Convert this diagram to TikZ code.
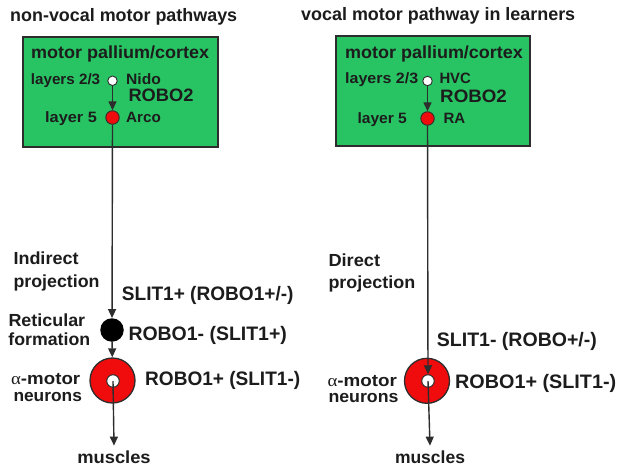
\documentclass[tikz,border=0pt]{standalone}
\usepackage{fontspec}
\usepackage{graphicx}
\setmainfont{Liberation Sans}
\newfontfamily\grk{Liberation Serif}
\usetikzlibrary{arrows.meta}

\definecolor{ink}{RGB}{28,28,28}
\definecolor{edge}{RGB}{45,45,45}
\definecolor{pallium}{RGB}{40,196,100}
\definecolor{cellred}{RGB}{240,12,12}

% text stretched horizontally to a given width, height kept
\newcommand\wtxt[3]{\resizebox{#1pt}{\height}{\fontsize{#2}{#2}\selectfont\bfseries #3}}

\tikzset{
  txt/.style={anchor=base west, inner sep=0pt, text=ink},
  box/.style={draw=edge, line width=1.8pt, fill=pallium},
  upper/.style={circle, draw=edge, line width=0.9pt, fill=white, inner sep=0pt, minimum size=9.5pt},
  lower/.style={circle, draw=edge, line width=0.9pt, fill=cellred, inner sep=0pt, minimum size=13.5pt},
  relay/.style={circle, fill=black, inner sep=0pt, minimum size=23.5pt},
  donut/.style={circle, draw=edge, line width=1.3pt, fill=cellred, inner sep=0pt, minimum size=45pt},
  hole/.style={circle, draw=edge, line width=1pt, fill=white, inner sep=0pt, minimum size=12.5pt},
  arr/.style={draw=edge, line width=1.4pt, -{Triangle[length=9pt,width=8pt,fill=edge]}},
  target/.style={anchor=base, inner xsep=0pt, inner ysep=4.5pt, text=ink}
}

\begin{document}
\begin{tikzpicture}[x=1pt,y=-1pt]
\path[use as bounding box, fill=white] (0,0) rectangle (617,470);

% ---------- non-vocal pathway ----------
\node[txt] (titleL) at (10,21.7) {\wtxt{227}{18}{non-vocal motor pathways}};
\draw[box] (23.3,37.3) rectangle (218.3,146.7);
\node[txt] (palL) at (31,59) {\wtxt{178}{17.5}{motor pallium/cortex}};
\node[txt] (lay23L) at (30.7,85) {\wtxt{69.3}{15}{layers 2/3}};
\node[txt] (nidoT) at (126,85) {\wtxt{34.7}{15}{Nido}};
\node[txt] (robo2L) at (128.3,101.7) {\wtxt{65}{18}{ROBO2}};
\node[txt] (lay5L) at (45,123) {\wtxt{51.7}{15}{layer 5}};
\node[txt] (arcoT) at (126,123) {\wtxt{34.7}{15}{Arco}};

\node[upper] (nidoL) at (112.5,80.8) {};
\node[lower] (arcoL) at (112.5,117.5) {};

\node[txt] (indA) at (13.3,264.5) {\wtxt{65}{17.5}{Indirect}};
\node[txt] (indB) at (13.3,287) {\wtxt{86}{17.5}{projection}};
\node[txt] (slitL) at (121.7,300.7) {\wtxt{171.6}{19.5}{SLIT1+ (ROBO1+/-)}};
\node[txt] (retA) at (8.3,326.7) {\wtxt{76.7}{17.5}{Reticular}};
\node[txt] (retB) at (8.3,345) {\wtxt{81.7}{17.5}{formation}};
\node[txt] (roboRet) at (128.3,340) {\wtxt{158.4}{19.5}{ROBO1- (SLIT1+)}};
\node[txt] (mnA) at (11,384.5) {\resizebox{69pt}{\height}{\fontsize{17}{17}\selectfont{\grk α}\bfseries-motor}};
\node[txt] (mnB) at (13.3,401) {\wtxt{68.4}{17}{neurons}};
\node[txt] (roboMnL) at (145,385) {\wtxt{155}{19.5}{ROBO1+ (SLIT1-)}};

\node[relay] (retL) at (112,330) {};
\node[donut] (mnL) at (112.5,380.5) {};
\node[hole] (mnLc) at (113,381) {};
\node[target] (musL) at (114,463) {\wtxt{73.4}{17.5}{muscles}};

\draw[arr] (nidoL) -- (arcoL);
\draw[arr] (arcoL) -- (retL);
\draw[arr] (retL) -- (mnL);
\draw[arr] (mnLc.center) -- (musL.north);

% ---------- vocal pathway ----------
\node[txt] (titleR) at (301,20.7) {\wtxt{274}{18}{vocal motor pathway in learners}};
\draw[box] (335.7,36.3) rectangle (530,145.7);
\node[txt] (palR) at (345,58.3) {\wtxt{177.7}{17.5}{motor pallium/cortex}};
\node[txt] (lay23R) at (345,84) {\wtxt{73}{15}{layers 2/3}};
\node[txt] (hvcT) at (439.3,84) {\wtxt{31.4}{15}{HVC}};
\node[txt] (robo2R) at (440,103) {\wtxt{66.7}{18}{ROBO2}};
\node[txt] (lay5R) at (357.3,124) {\wtxt{49.4}{15}{layer 5}};
\node[txt] (raT) at (443.3,124) {\wtxt{21.7}{15}{RA}};

\node[upper] (hvc) at (427.5,81) {};
\node[lower] (ra) at (427.5,118.5) {};

\node[txt] (dirA) at (328.3,266.7) {\wtxt{51.7}{17.5}{Direct}};
\node[txt] (dirB) at (328.3,288.3) {\wtxt{86.7}{17.5}{projection}};
\node[txt] (slitR) at (436.7,346) {\wtxt{160}{19.5}{SLIT1- (ROBO+/-)}};
\node[txt] (mnRA) at (327.3,386) {\resizebox{69.4pt}{\height}{\fontsize{17}{17}\selectfont{\grk α}\bfseries-motor}};
\node[txt] (mnRB) at (328.3,402) {\wtxt{70}{17}{neurons}};
\node[txt] (roboMnR) at (455,388.3) {\wtxt{161}{19.5}{ROBO1+ (SLIT1-)}};

\node[donut] (mnR) at (427,380.8) {};
\node[hole] (mnRc) at (428,381) {};
\node[target] (musR) at (430,463) {\wtxt{70}{17.5}{muscles}};

\draw[arr] (hvc) -- (ra);
\draw[arr] (ra) -- (mnRc);
\draw[arr] (mnRc.center) -- (musR.north);
\end{tikzpicture}
\end{document}
